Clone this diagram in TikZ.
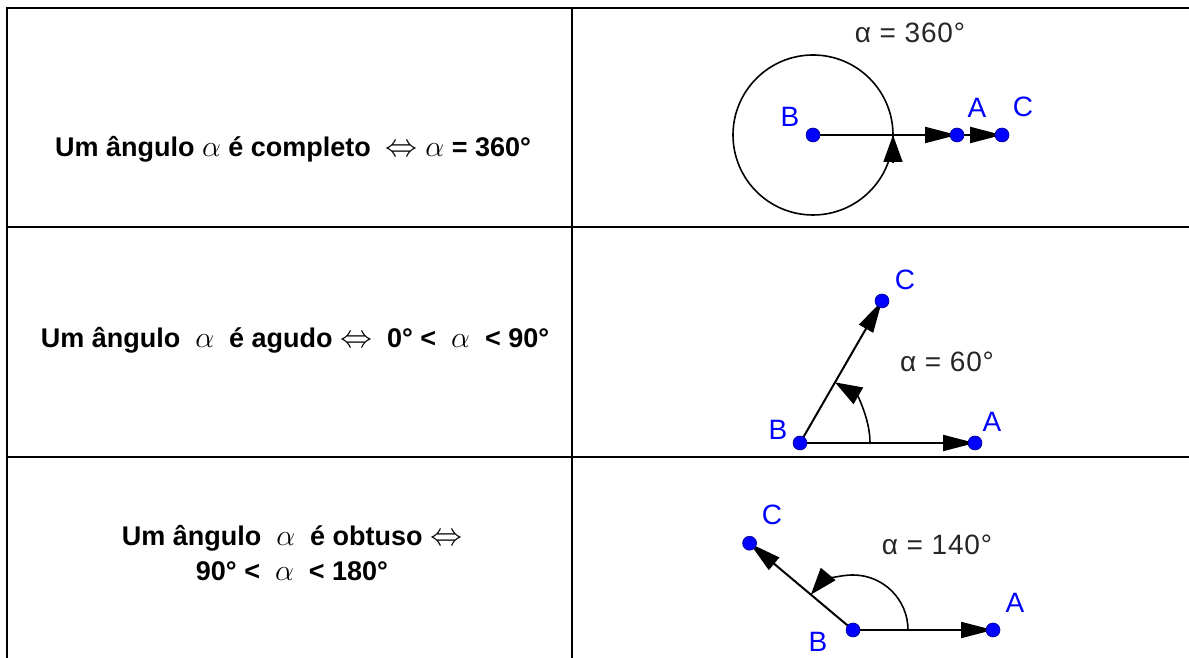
\RequirePackage{fix-cm}
\documentclass[tikz,border=0pt]{standalone}
\usepackage{fontspec}
\setmainfont{Liberation Sans}
\newfontfamily\ggfont[LetterSpace=3]{Liberation Sans}
\usetikzlibrary{arrows.meta,calc}
\definecolor{ggblue}{RGB}{0,0,255}
\newcommand\bal{{\fontsize{30}{30}\selectfont$\alpha$}}
\newcommand\biff{{\fontsize{32}{32}\selectfont$\Leftrightarrow$}}
\begin{document}
\begin{tikzpicture}[x=1pt,y=1pt,
  tbl/.style={line width=2.7pt},
  seg/.style={line width=2pt,-{Triangle[length=32pt,width=16pt]}},
  angarc/.style={line width=1.6pt,-{Triangle[length=27pt,width=19pt]}},
  pt/.style={circle,fill=ggblue,draw=ggblue!55!black,line width=0.6pt,minimum size=14pt,inner sep=0pt},
  lbl/.style={text=ggblue,font=\ggfont\fontsize{28}{30}\selectfont,inner sep=0pt},
  val/.style={text=black!85,font=\ggfont\fontsize{28}{30}\selectfont,inner sep=0pt},
  bigtext/.style={font=\bfseries\fontsize{27}{31}\selectfont,inner sep=0pt,anchor=base}]
\useasboundingbox (0,0) rectangle (1189,658);
% table
\draw[tbl] (7,0) -- (7,650) -- (1189,650);
\draw[tbl] (572,0) -- (572,650);
\draw[tbl] (7,431) -- (1189,431);
\draw[tbl] (7,201) -- (1189,201);
% left texts
\node[bigtext] (t1) at (293,501) {Um ângulo \bal\ é completo~ \biff\ \bal\ = 360°};
\node[bigtext] (t2) at (295,310) {Um ângulo~ \bal~ é agudo \biff~ 0° <~ \bal~ < 90°};
\node[bigtext] (t3a) at (292,112) {Um ângulo~ \bal~ é obtuso \biff};
\node[bigtext] (t3b) at (292,77) {90° <~ \bal~ < 180°};
% row 1
\coordinate (B1) at (813,523);
\coordinate (A1) at (957,523);
\coordinate (C1) at (1002,523);
\coordinate (E1) at (893,523);
\coordinate (E1s) at (893,495);
\draw[line width=1.6pt] (B1) circle[radius=80];
\draw[angarc] (E1s) -- (E1);
\draw[seg] (B1) -- (C1);
\draw[seg] (B1) -- (A1);
\node[pt] (b1) at (B1) {};
\node[pt] (a1) at (A1) {};
\node[pt] (c1) at (C1) {};
\node[lbl] (lb1) at (790,541) {B};
\node[lbl] (la1) at (977,550) {A};
\node[lbl] (lc1) at (1023,551) {C};
\node[val] (v1) at (910,625) {α = 360°};
% row 2
\coordinate (B2) at (800,215);
\coordinate (A2) at (975,215);
\coordinate (C2) at ($(B2)+(60:164)$);
\draw[angarc] ($(B2)+(70,0)$) arc[start angle=0,end angle=60,radius=70];
\draw[seg] (B2) -- (C2);
\draw[seg] (B2) -- (A2);
\node[pt] (b2) at (B2) {};
\node[pt] (a2) at (A2) {};
\node[pt] (c2) at (C2) {};
\node[lbl] (lb2) at (778,228) {B};
\node[lbl] (la2) at (992,236) {A};
\node[lbl] (lc2) at (905,378) {C};
\node[val] (v2) at (947,296) {α = 60°};
% row 3
\coordinate (B3) at (853,28);
\coordinate (A3) at (993,28);
\coordinate (C3) at ($(B3)+(140:135)$);
\draw[angarc] ($(B3)+(55,0)$) arc[start angle=0,end angle=140,radius=55];
\draw[seg] (B3) -- (C3);
\draw[seg] (B3) -- (A3);
\node[pt] (b3) at (B3) {};
\node[pt] (a3) at (A3) {};
\node[pt] (c3) at (C3) {};
\node[lbl] (lb3) at (818,16) {B};
\node[lbl] (la3) at (1015,55) {A};
\node[lbl] (lc3) at (772,143) {C};
\node[val] (v3) at (937,113) {α = 140°};
\end{tikzpicture}
\end{document}
